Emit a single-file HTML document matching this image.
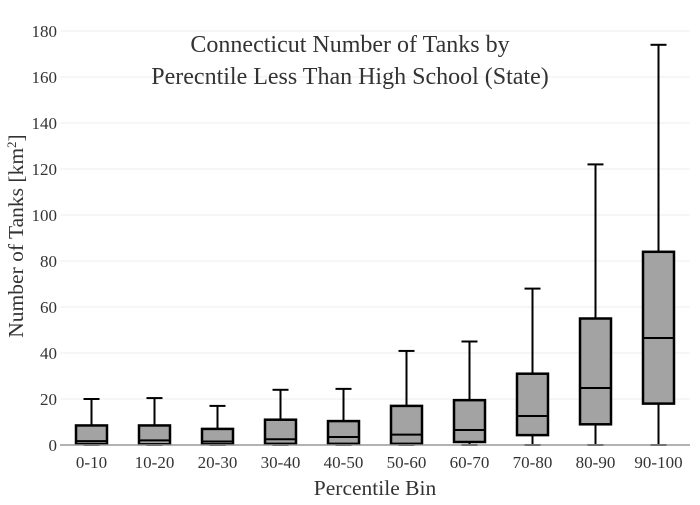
<!DOCTYPE html>
<html><head><meta charset="utf-8"><style>
body{margin:0;background:#fff}
svg text{font-family:"Liberation Serif",serif;fill:#333}
</style></head><body>
<svg id="c" width="700" height="500">
<rect width="700" height="500" fill="#fff"/>
<g id="grid"></g><g id="boxes"></g><g id="ticks"></g>
<text x="350" y="52" text-anchor="middle" font-size="24">Connecticut Number of Tanks by</text>
<text x="350" y="84" text-anchor="middle" font-size="24">Perecntile Less Than High School (State)</text>
<text x="375" y="495" text-anchor="middle" font-size="21.5">Percentile Bin</text>
<text transform="translate(23,236) rotate(-90)" text-anchor="middle" font-size="21.5">Number of Tanks  [km<tspan baseline-shift="super" font-size="13">2</tspan>]</text>
</svg>
<script>
const categories=["0-10","10-20","20-30","30-40","40-50","50-60","60-70","70-80","80-90","90-100"];
const mins=[0,0,0,0,0,0,0,0,0,0];
const q1s=[0.4,0.3,0.3,0.5,0.5,0.5,1.3,4.3,9,18];
const medians=[1.7,2,1.5,2.5,3.5,4.5,6.5,12.6,24.8,46.5];
const q3s=[8.5,8.5,7,11,10.4,17,19.5,31,55,84];
const maxs=[20,20.4,17,24,24.4,40.9,45,68,122,174];
const yTicks=[0,20,40,60,80,100,120,140,160,180];
const L=60,R=690,T=31,B=445,ymax=180;
const y=v=>B-(v/ymax)*(B-T);
const bw=(R-L)/categories.length;
const x=i=>L+bw*(i+0.5);
const NS="http://www.w3.org/2000/svg";
function mk(tag,attrs,parent){const e=document.createElementNS(NS,tag);for(const k in attrs)e.setAttribute(k,attrs[k]);parent.appendChild(e);return e;}
const grid=document.getElementById('grid'),boxes=document.getElementById('boxes'),ticks=document.getElementById('ticks');
yTicks.forEach(t=>{
  if(t>0){const g=mk('line',{x1:L,x2:R,y1:y(t),y2:y(t),stroke:'#eee','stroke-width':1},grid);
  
  }
  const tx=mk('text',{x:L-3,y:y(t)+6,'text-anchor':'end','font-size':17},ticks);tx.textContent=t;
  
  
});
const ax=mk('line',{x1:L,x2:R,y1:B,y2:B,stroke:'#999','stroke-width':1.5},ticks);


categories.forEach((c,i)=>{
  const cx=x(i),w=31;
  const g=mk('g',{},boxes);
  
  
  mk('line',{x1:cx,x2:cx,y1:y(maxs[i]),y2:y(q3s[i]),stroke:'#000','stroke-width':2},g);
  mk('line',{x1:cx,x2:cx,y1:y(q1s[i]),y2:y(mins[i]),stroke:'#000','stroke-width':2},g);
  mk('line',{x1:cx-8,x2:cx+8,y1:y(maxs[i]),y2:y(maxs[i]),stroke:'#000','stroke-width':2},g);
  mk('line',{x1:cx-8,x2:cx+8,y1:y(mins[i]),y2:y(mins[i]),stroke:'#000','stroke-width':2},g);
  mk('rect',{x:cx-w/2,y:y(q3s[i]),width:w,height:y(q1s[i])-y(q3s[i]),fill:'#a3a3a3',stroke:'#000','stroke-width':2.5},g);
  mk('line',{x1:cx-w/2,x2:cx+w/2,y1:y(medians[i]),y2:y(medians[i]),stroke:'#000','stroke-width':2},g);
  const tx=mk('text',{x:cx,y:468,'text-anchor':'middle','font-size':17},ticks);tx.textContent=c;
  
  
});
</script>
</body></html>
